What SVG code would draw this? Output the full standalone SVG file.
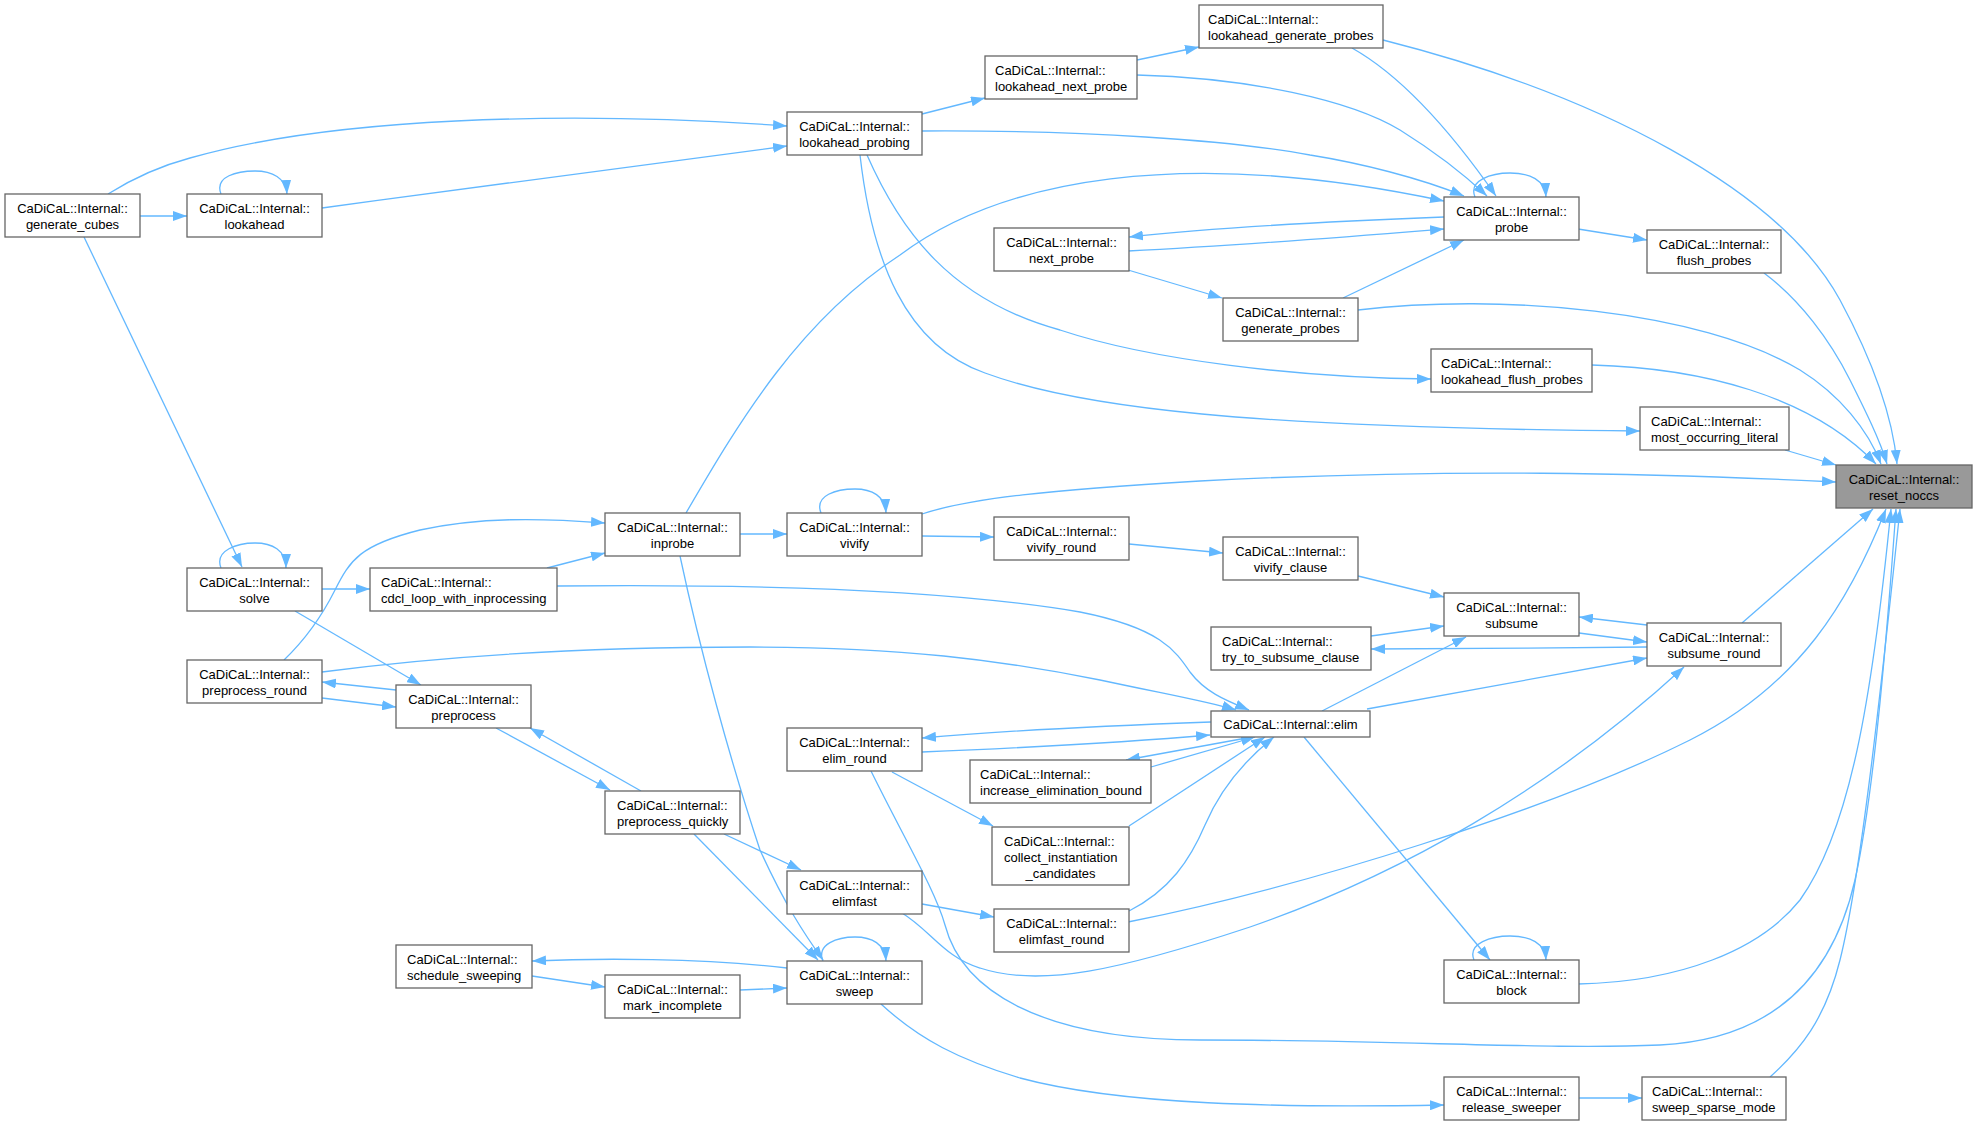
<svg xmlns="http://www.w3.org/2000/svg" width="1976" height="1125" viewBox="0 0 1976 1125">
<style>
.n rect{fill:#fff;stroke:#666;stroke-width:1.3}
.n text{font-family:"Liberation Sans",Arial,sans-serif;font-size:13px;fill:#000}
.c{text-anchor:middle}
.e path{fill:none;stroke:#63b8ff;stroke-width:1.3;marker-end:url(#a)}
</style>
<defs>
<marker id="a" viewBox="0 0 14 10" refX="14" refY="5" markerWidth="14" markerHeight="10" markerUnits="userSpaceOnUse" orient="auto"><path d="M0,0 L14,5 L0,10 z" fill="#63b8ff"/></marker>
</defs>
<rect width="1976" height="1125" fill="#fff"/>
<g id="connectors" class="e">
<path d="M140,216 L187,216"/>
<path d="M221,194 C214,176 238,171 255,171 C272,171 286,178 287,194"/>
<path d="M108,194 C135,177 160,166 190,158 C330,118 560,110 787,126"/>
<path d="M322,208 C480,186 640,166 787,146"/>
<path d="M922,114 L985,98"/>
<path d="M1137,60 L1199,47"/>
<path d="M1137,75 C1250,78 1350,100 1400,130 C1440,155 1470,180 1487,196"/>
<path d="M1352,48 C1400,75 1450,130 1496,196"/>
<path d="M922,131 C1080,130 1230,140 1310,155 C1360,163 1420,178 1464,196"/>
<path d="M686,513 C740,420 800,320 900,255 C1000,180 1180,145 1444,201"/>
<path d="M1475,197 C1468,180 1492,173 1510,173 C1530,173 1545,180 1546,197"/>
<path d="M1444,217 C1340,221 1220,227 1129,237"/>
<path d="M1128,251 C1250,245 1370,235 1444,229"/>
<path d="M1128,270 L1222,298"/>
<path d="M1343,298 L1464,240"/>
<path d="M1578,229 L1647,240"/>
<path d="M1383,40 C1600,95 1780,190 1840,300 C1875,365 1893,420 1897,464"/>
<path d="M1764,273 C1800,300 1830,340 1850,380 C1865,410 1880,440 1887,464"/>
<path d="M1358,310 C1500,293 1700,310 1800,370 C1840,395 1868,430 1881,464"/>
<path d="M1592,365 C1700,368 1810,395 1876,464"/>
<path d="M867,155 C900,230 950,300 1060,330 C1150,360 1300,378 1431,379"/>
<path d="M860,155 C872,260 905,345 985,373 C1080,408 1250,428 1640,431"/>
<path d="M1785,450 L1836,465"/>
<path d="M922,514 C970,498 1050,490 1200,481 C1450,468 1650,473 1836,482"/>
<path d="M740,534 L787,534"/>
<path d="M821,513 C814,495 837,489 855,489 C872,489 885,496 886,513"/>
<path d="M922,536 L994,537"/>
<path d="M1129,544 L1223,553"/>
<path d="M1358,576 L1444,597"/>
<path d="M1371,636 L1444,626"/>
<path d="M1647,647 C1560,648 1450,649 1371,649"/>
<path d="M1647,625 L1579,617"/>
<path d="M1579,633 L1647,642"/>
<path d="M1322,711 L1466,637"/>
<path d="M1367,709 L1647,658"/>
<path d="M1742,623 L1873,509"/>
<path d="M902,913 C930,930 945,958 980,968 C1040,988 1120,970 1250,927 C1400,875 1550,790 1684,667"/>
<path d="M1128,922 C1300,888 1550,810 1690,740 C1800,685 1850,600 1886,509"/>
<path d="M1578,984 C1680,982 1760,950 1800,900 C1850,830 1872,700 1891,509"/>
<path d="M871,771 C905,840 935,890 945,925 C962,990 1040,1040 1200,1040 C1400,1040 1550,1050 1660,1045 C1760,1040 1830,990 1855,880 C1875,790 1888,620 1896,509"/>
<path d="M1770,1077 C1800,1050 1825,1020 1840,960 C1860,880 1880,700 1900,509"/>
<path d="M84,237 L242,567"/>
<path d="M221,568 C214,550 238,543 255,543 C272,543 286,550 286,568"/>
<path d="M322,589 L370,589"/>
<path d="M295,611 L421,685"/>
<path d="M284,660 C310,635 325,610 335,590 C350,560 360,545 420,530 C480,517 540,518 605,523"/>
<path d="M547,568 L605,553"/>
<path d="M557,586 C750,584 950,590 1080,612 C1160,628 1175,650 1190,672 C1205,692 1225,700 1249,710"/>
<path d="M322,672 C450,655 600,647 750,647 C900,647 1000,660 1100,680 C1170,695 1210,702 1236,710"/>
<path d="M396,690 L322,682"/>
<path d="M322,698 L396,707"/>
<path d="M496,728 L610,790"/>
<path d="M641,791 L530,728"/>
<path d="M724,834 L801,870"/>
<path d="M694,834 L818,960"/>
<path d="M680,556 C700,650 730,760 760,850 C785,905 805,935 823,960"/>
<path d="M823,961 C816,944 838,937 855,937 C872,937 885,944 886,961"/>
<path d="M1211,722 C1100,726 1000,731 922,738"/>
<path d="M922,752 C1020,748 1130,742 1210,735"/>
<path d="M1252,737 L1126,760"/>
<path d="M1151,767 L1255,737"/>
<path d="M1129,826 L1265,737"/>
<path d="M1129,911 C1170,890 1190,860 1205,825 C1220,790 1245,760 1274,737"/>
<path d="M892,772 L993,826"/>
<path d="M922,904 L994,917"/>
<path d="M1304,737 L1490,960"/>
<path d="M1474,960 C1467,943 1492,936 1510,936 C1530,936 1545,943 1546,960"/>
<path d="M787,968 C700,958 600,958 532,961"/>
<path d="M532,976 L605,987"/>
<path d="M740,990 L787,988"/>
<path d="M881,1004 C920,1040 960,1060 1020,1078 C1120,1105 1280,1108 1444,1105"/>
<path d="M1578,1098 L1642,1098"/>
</g>
<g id="generate_cubes" class="n"><rect x="5" y="194" width="135" height="43"/><text class="c" x="72.5" y="213">CaDiCaL::Internal::</text><text class="c" x="72.5" y="228.5">generate_cubes</text></g>
<g id="lookahead" class="n"><rect x="187" y="194" width="135" height="43"/><text class="c" x="254.5" y="213">CaDiCaL::Internal::</text><text class="c" x="254.5" y="228.5">lookahead</text></g>
<g id="lookahead_probing" class="n"><rect x="787" y="112" width="135" height="43"/><text class="c" x="854.5" y="131">CaDiCaL::Internal::</text><text class="c" x="854.5" y="146.5">lookahead_probing</text></g>
<g id="lookahead_next_probe" class="n"><rect x="985" y="56" width="152" height="43"/><text x="995" y="75">CaDiCaL::Internal::</text><text x="995" y="90.5">lookahead_next_probe</text></g>
<g id="lookahead_generate_probes" class="n"><rect x="1199" y="5" width="184" height="43"/><text x="1208" y="24">CaDiCaL::Internal::</text><text x="1208" y="39.5">lookahead_generate_probes</text></g>
<g id="next_probe" class="n"><rect x="994" y="228" width="135" height="43"/><text class="c" x="1061.5" y="247">CaDiCaL::Internal::</text><text class="c" x="1061.5" y="262.5">next_probe</text></g>
<g id="generate_probes" class="n"><rect x="1223" y="298" width="135" height="43"/><text class="c" x="1290.5" y="317">CaDiCaL::Internal::</text><text class="c" x="1290.5" y="332.5">generate_probes</text></g>
<g id="probe" class="n"><rect x="1444" y="197" width="135" height="43"/><text class="c" x="1511.5" y="216">CaDiCaL::Internal::</text><text class="c" x="1511.5" y="231.5">probe</text></g>
<g id="flush_probes" class="n"><rect x="1647" y="230" width="134" height="43"/><text class="c" x="1714" y="249">CaDiCaL::Internal::</text><text class="c" x="1714" y="264.5">flush_probes</text></g>
<g id="lookahead_flush_probes" class="n"><rect x="1431" y="349" width="161" height="43"/><text x="1441" y="368">CaDiCaL::Internal::</text><text x="1441" y="383.5">lookahead_flush_probes</text></g>
<g id="most_occurring_literal" class="n"><rect x="1640" y="407" width="149" height="43"/><text x="1651" y="426">CaDiCaL::Internal::</text><text x="1651" y="441.5">most_occurring_literal</text></g>
<g id="reset_noccs" class="n"><rect x="1836" y="465" width="136" height="43" style="fill:#999"/><text class="c" x="1904" y="484">CaDiCaL::Internal::</text><text class="c" x="1904" y="499.5">reset_noccs</text></g>
<g id="inprobe" class="n"><rect x="605" y="513" width="135" height="43"/><text class="c" x="672.5" y="532">CaDiCaL::Internal::</text><text class="c" x="672.5" y="547.5">inprobe</text></g>
<g id="vivify" class="n"><rect x="787" y="513" width="135" height="43"/><text class="c" x="854.5" y="532">CaDiCaL::Internal::</text><text class="c" x="854.5" y="547.5">vivify</text></g>
<g id="vivify_round" class="n"><rect x="994" y="517" width="135" height="43"/><text class="c" x="1061.5" y="536">CaDiCaL::Internal::</text><text class="c" x="1061.5" y="551.5">vivify_round</text></g>
<g id="vivify_clause" class="n"><rect x="1223" y="537" width="135" height="43"/><text class="c" x="1290.5" y="556">CaDiCaL::Internal::</text><text class="c" x="1290.5" y="571.5">vivify_clause</text></g>
<g id="solve" class="n"><rect x="187" y="568" width="135" height="43"/><text class="c" x="254.5" y="587">CaDiCaL::Internal::</text><text class="c" x="254.5" y="602.5">solve</text></g>
<g id="cdcl_loop_with_inprocessing" class="n"><rect x="370" y="568" width="187" height="43"/><text x="381" y="587">CaDiCaL::Internal::</text><text x="381" y="602.5">cdcl_loop_with_inprocessing</text></g>
<g id="subsume" class="n"><rect x="1444" y="593" width="135" height="43"/><text class="c" x="1511.5" y="612">CaDiCaL::Internal::</text><text class="c" x="1511.5" y="627.5">subsume</text></g>
<g id="try_to_subsume_clause" class="n"><rect x="1211" y="627" width="160" height="43"/><text x="1222" y="646">CaDiCaL::Internal::</text><text x="1222" y="661.5">try_to_subsume_clause</text></g>
<g id="subsume_round" class="n"><rect x="1647" y="623" width="134" height="43"/><text class="c" x="1714" y="642">CaDiCaL::Internal::</text><text class="c" x="1714" y="657.5">subsume_round</text></g>
<g id="preprocess_round" class="n"><rect x="187" y="660" width="135" height="43"/><text class="c" x="254.5" y="679">CaDiCaL::Internal::</text><text class="c" x="254.5" y="694.5">preprocess_round</text></g>
<g id="preprocess" class="n"><rect x="396" y="685" width="135" height="43"/><text class="c" x="463.5" y="704">CaDiCaL::Internal::</text><text class="c" x="463.5" y="719.5">preprocess</text></g>
<g id="elim" class="n"><rect x="1211" y="711" width="159" height="26"/><text class="c" x="1290.5" y="728.5">CaDiCaL::Internal::elim</text></g>
<g id="elim_round" class="n"><rect x="787" y="728" width="135" height="43"/><text class="c" x="854.5" y="747">CaDiCaL::Internal::</text><text class="c" x="854.5" y="762.5">elim_round</text></g>
<g id="increase_elimination_bound" class="n"><rect x="970" y="760" width="181" height="43"/><text x="980" y="779">CaDiCaL::Internal::</text><text x="980" y="794.5">increase_elimination_bound</text></g>
<g id="collect_instantiation_candidates" class="n"><rect x="992" y="827" width="137" height="58"/><text x="1004" y="845.5">CaDiCaL::Internal::</text><text x="1004" y="861.5">collect_instantiation</text><text class="c" x="1060.5" y="877.5">_candidates</text></g>
<g id="preprocess_quickly" class="n"><rect x="605" y="791" width="135" height="43"/><text x="617" y="810">CaDiCaL::Internal::</text><text x="617" y="825.5">preprocess_quickly</text></g>
<g id="elimfast" class="n"><rect x="787" y="871" width="135" height="43"/><text class="c" x="854.5" y="890">CaDiCaL::Internal::</text><text class="c" x="854.5" y="905.5">elimfast</text></g>
<g id="elimfast_round" class="n"><rect x="994" y="909" width="135" height="43"/><text class="c" x="1061.5" y="928">CaDiCaL::Internal::</text><text class="c" x="1061.5" y="943.5">elimfast_round</text></g>
<g id="schedule_sweeping" class="n"><rect x="396" y="945" width="136" height="43"/><text x="407" y="964">CaDiCaL::Internal::</text><text x="407" y="979.5">schedule_sweeping</text></g>
<g id="mark_incomplete" class="n"><rect x="605" y="975" width="135" height="43"/><text class="c" x="672.5" y="994">CaDiCaL::Internal::</text><text class="c" x="672.5" y="1009.5">mark_incomplete</text></g>
<g id="sweep" class="n"><rect x="787" y="961" width="135" height="43"/><text class="c" x="854.5" y="980">CaDiCaL::Internal::</text><text class="c" x="854.5" y="995.5">sweep</text></g>
<g id="block" class="n"><rect x="1444" y="960" width="135" height="43"/><text class="c" x="1511.5" y="979">CaDiCaL::Internal::</text><text class="c" x="1511.5" y="994.5">block</text></g>
<g id="release_sweeper" class="n"><rect x="1444" y="1077" width="135" height="43"/><text class="c" x="1511.5" y="1096">CaDiCaL::Internal::</text><text class="c" x="1511.5" y="1111.5">release_sweeper</text></g>
<g id="sweep_sparse_mode" class="n"><rect x="1642" y="1077" width="144" height="43"/><text x="1652" y="1096">CaDiCaL::Internal::</text><text x="1652" y="1111.5">sweep_sparse_mode</text></g>
</svg>
